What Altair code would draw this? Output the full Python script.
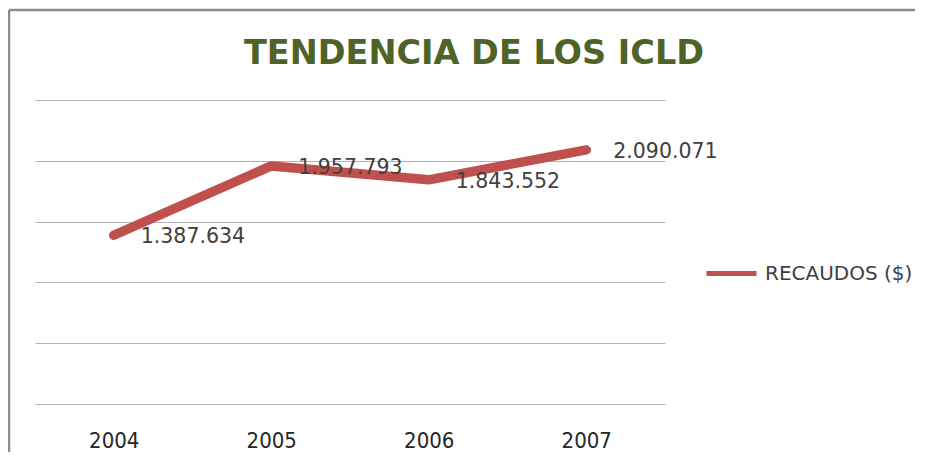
import altair as alt
import pandas as pd

years = ["2004", "2005", "2006", "2007"]
recaudos = [1387634, 1957793, 1843552, 2090071]
series_name = "RECAUDOS ($)"
title_text = "TENDENCIA DE LOS ICLD"
y_ticks = [0, 500000, 1000000, 1500000, 2000000, 2500000]

df = pd.DataFrame({
    "year": years,
    "value": recaudos,
    "serie": [series_name] * len(years),
    "label": [f"{v:,}".replace(",", ".") for v in recaudos],
})

base = alt.Chart(df).encode(
    x=alt.X(
        "year:O",
        scale=alt.Scale(type="point", padding=0.5),
        axis=alt.Axis(
            title=None, labelAngle=0, ticks=False, domain=False, grid=False,
            labelFont="DejaVu Sans Condensed, Roboto, sans-serif", labelFontSize=22,
            labelColor="#262626", labelPadding=26, labelBaseline="top",
        ),
    ),
    y=alt.Y(
        "value:Q",
        scale=alt.Scale(domain=[0, 2500000]),
        axis=alt.Axis(
            title=None, labels=False, ticks=False, domain=False,
            values=y_ticks, gridColor="#B3B3B3", gridWidth=1.2,
        ),
    ),
)

line = base.mark_line(strokeWidth=9.5, strokeCap="round", strokeJoin="round").encode(
    color=alt.Color(
        "serie:N",
        scale=alt.Scale(range=["#C0504D"]),
        legend=alt.Legend(
            title=None, orient="none", legendX=669, legendY=146,
            symbolType="stroke", symbolSize=2500, symbolStrokeWidth=5,
            labelFont="DejaVu Sans", labelFontSize=20, labelColor="#404040",
            labelOffset=6, padding=0,
        ),
    )
)

labels = base.mark_text(
    align="left", dx=27, dy=2, baseline="middle",
    font="DejaVu Sans", fontSize=20.5, color="#404040",
).encode(text="label:N")

one = pd.DataFrame({"k": [0]})
frame_top = alt.Chart(one).mark_rule(color="#8C8C8C", strokeWidth=2.5).encode(
    x=alt.value(-26), x2=alt.value(900), y=alt.value(-90)
)
frame_left = alt.Chart(one).mark_rule(color="#8C8C8C", strokeWidth=2.5).encode(
    x=alt.value(-26), y=alt.value(-90), y2=alt.value(360)
)
title = alt.Chart(one).mark_text(
    text=title_text, font="DejaVu Sans", fontWeight="bold", fontSize=33.5,
    color="#4F6228", align="center", baseline="alphabetic",
).encode(x=alt.value(439), y=alt.value(-36))

chart = (
    alt.layer(frame_top, frame_left, title, line, labels)
    .properties(
        width=630, height=304,
        padding={"left": 27, "top": 92, "right": 250, "bottom": 48},
        autosize=alt.AutoSizeParams(type="none"),
        background="white",
    )
    .configure_view(stroke=None)
)

chart.save("out.html", embed_options={"renderer": "svg", "actions": False})
